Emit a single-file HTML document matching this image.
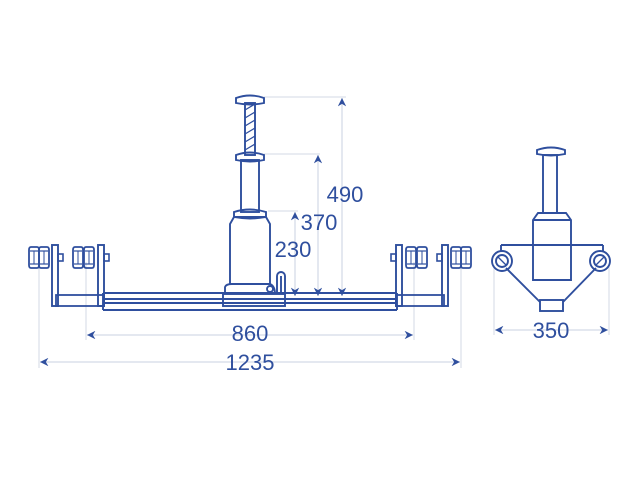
<!DOCTYPE html>
<html><head><style>body{margin:0;background:#fff}svg{display:block}</style></head><body>
<svg width="640" height="480" viewBox="0 0 640 480" xmlns="http://www.w3.org/2000/svg">
<defs>
<g id="bob"><path d="M1,0 h6 q2,0 2,3 v15 q0,3 -2,3 h-6 q-2,0 -2,-3 v-15 q0,-3 2,-3z" fill="none" stroke="#2f4f9e" stroke-width="1.8"/><line x1="0" y1="4" x2="8" y2="4" stroke="#2f4f9e" stroke-width="1.2"/><line x1="0" y1="17" x2="8" y2="17" stroke="#2f4f9e" stroke-width="1.2"/><line x1="4" y1="4" x2="4" y2="17" stroke="#2f4f9e" stroke-width="1"/></g>
<g id="end">
<rect x="52" y="245" width="6" height="61" fill="none" stroke="#2f4f9e" stroke-width="1.9"/>
<rect x="98" y="245" width="6" height="61" fill="none" stroke="#2f4f9e" stroke-width="1.9"/>
<rect x="56" y="295" width="48" height="11" fill="none" stroke="#2f4f9e" stroke-width="1.8"/>
<use href="#bob" x="30" y="247"/><use href="#bob" x="40" y="247"/>
<use href="#bob" x="74" y="247"/><use href="#bob" x="85" y="247"/>
<rect x="58" y="254" width="5" height="7" fill="none" stroke="#2f4f9e" stroke-width="1.6"/>
<rect x="104" y="254" width="5" height="7" fill="none" stroke="#2f4f9e" stroke-width="1.6"/>
</g>
<marker id="a" viewBox="0 0 10 10" refX="10" refY="5" markerWidth="7" markerHeight="7" orient="auto-start-reverse"><path d="M0,0 L10,5 L0,10 L3,5z" fill="#2f4f9e"/></marker>
</defs>
<g stroke="#d3d9e6" stroke-width="1" fill="none">
<line x1="264" y1="97" x2="346" y2="97"/><line x1="264" y1="154" x2="320" y2="154"/><line x1="268" y1="211" x2="298" y2="211"/>
<line x1="86" y1="262" x2="86" y2="340"/><line x1="414" y1="262" x2="414" y2="340"/>
<line x1="39" y1="268" x2="39" y2="368"/><line x1="461" y1="268" x2="461" y2="368"/>
<line x1="494" y1="265" x2="494" y2="335"/><line x1="609" y1="265" x2="609" y2="335"/>
</g>
<g stroke="#d3d9e6" stroke-width="1.2" fill="none" marker-start="url(#a)" marker-end="url(#a)">
<line x1="342" y1="98" x2="342" y2="296"/><line x1="318" y1="155" x2="318" y2="296"/><line x1="295" y1="212" x2="295" y2="296"/>
<line x1="87" y1="335" x2="413" y2="335"/><line x1="40" y1="362" x2="460" y2="362"/><line x1="495" y1="330" x2="608" y2="330"/>
</g>
<g fill="none" stroke="#2f4f9e" stroke-width="1.9">
<rect x="245" y="103" width="10" height="52"/>
<path d="M245,110 L255,104 M245,118 L255,112 M245,126 L255,120 M245,134 L255,128 M245,142 L255,136 M245,150 L255,144" stroke-width="1.3"/>
<path d="M236,98 q14,-5 28,0 v5 q-14,3 -28,0z"/>
<path d="M236,155 q14,-5 28,0 v5 q-14,3 -28,0z"/>
<rect x="241" y="160" width="18" height="52"/>
<path d="M234,212 q16,-5 32,0 v5 q-16,3 -32,0z"/>
<path d="M234,217 L266,217 L270,224 L270,284 L230,284 L230,224z"/>
<path d="M225,294 L225,287 Q226,284 232,284 L270,284 Q275,286 275,294"/>
<circle cx="270" cy="289" r="3"/>
<rect x="223" y="294" width="62" height="12"/>
<path d="M277,294 V276 a4,4 0 0 1 8,0 V294"/><line x1="281" y1="276" x2="281" y2="294"/>
<line x1="103" y1="293" x2="397" y2="293"/><line x1="103" y1="299" x2="397" y2="299"/>
<line x1="103" y1="303" x2="397" y2="303"/><line x1="103" y1="310" x2="397" y2="310"/>
<line x1="103" y1="293" x2="103" y2="310"/><line x1="397" y1="293" x2="397" y2="310"/>
</g>
<use href="#end"/>
<use href="#end" transform="translate(500,0) scale(-1,1)"/>
<g fill="none" stroke="#2f4f9e" stroke-width="1.9">
<path d="M537,150 q14,-5 28,0 v4 q-14,3 -28,0z"/>
<rect x="543" y="155" width="14" height="58"/>
<path d="M538,213 L566,213 L571,220 L571,280 L533,280 L533,220z"/>
<line x1="533" y1="220" x2="571" y2="220"/>
<line x1="501" y1="245" x2="603" y2="245"/><line x1="501" y1="245" x2="501" y2="252"/><line x1="603" y1="245" x2="603" y2="252"/>
<circle cx="502" cy="261" r="10"/><circle cx="502" cy="261" r="6"/>
<circle cx="600" cy="261" r="10"/><circle cx="600" cy="261" r="6"/>
<line x1="498" y1="257" x2="506" y2="265" stroke-width="1.3"/><line x1="596" y1="265" x2="604" y2="257" stroke-width="1.3"/>
<line x1="506" y1="268" x2="540" y2="302"/><line x1="596" y1="268" x2="563" y2="302"/>
<rect x="540" y="300" width="23" height="11"/>
</g>
<g fill="#2f4f9e" font-family="Liberation Sans, sans-serif" font-size="22" text-anchor="middle">
<text x="345" y="202">490</text><text x="319" y="230">370</text><text x="293" y="257">230</text>
<text x="250" y="341">860</text><text x="250" y="370">1235</text><text x="551" y="338">350</text>
</g>
</svg>
</body></html>
